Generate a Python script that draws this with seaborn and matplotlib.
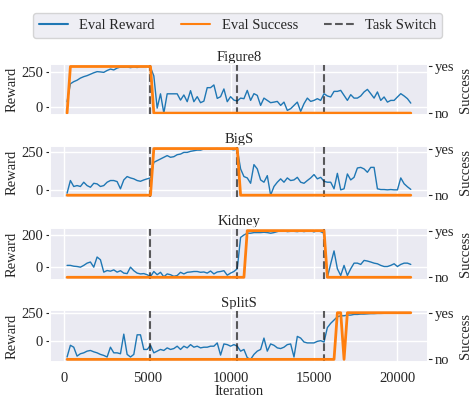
# Eval reward / success per task, with task switches (4 stacked panels)

import matplotlib
matplotlib.use("Agg")
import matplotlib.pyplot as plt
from matplotlib.lines import Line2D
import numpy as np
import pandas as pd
import seaborn as sns


TASKS = ["Figure8", "BigS", "Kidney", "SplitS"]
ITERATIONS = np.arange(200, 20801, 200)
TASK_SWITCHES = [5200, 10400, 15600]
REWARD_TICKS = {"Figure8": [0, 250], "BigS": [0, 250], "Kidney": [0, 200], "SplitS": [0, 250]}

# one row per task segment (26 evals each)
REWARD_FIGURE8 = [
    40, 165, 180, 190, 205, 215, 222, 232, 242, 250, 248, 245, 258, 268, 262, 275, 282, 281, 283, 278, 283, 279, 285, 284, 286, 280,
    220, -5, 95, -40, 95, 95, 95, 95, 51, 87, 40, 117, 40, 75, 33, 44, 138, 138, 157, 63, 75, 129, 40, 75, 51, 45,
    65, 61, 119, 49, 96, 84, 14, 65, 49, 33, 37, 42, 14, 37, -21, -9, 14, 37, -28, 26, 65, 42, 49, 61, 49, 96,
    80, 73, 112, 112, 119, 84, 49, 89, 65, 65, 80, 108, 126, 96, 65, 108, 49, 73, 37, 49, 49, 73, 96, 80, 61, 30,
]
REWARD_BIGS = [
    -22, 61, 22, 28, 22, 50, 28, 17, 43, 39, 22, 28, 50, 61, 61, 54, 7, 65, 87, 78, 72, 61, 56, 65, 72, 78,
    180, 191, 202, 213, 224, 213, 217, 230, 234, 245, 245, 252, 256, 260, 260, 267, 267, 265, 268, 270, 266, 268, 270, 265, 262, 268,
    137, 87, 78, 43, 165, 137, 65, 50, 93, -35, 22, 50, 72, 50, 78, 61, 65, 82, 50, 43, 61, 78, 100, 72, 82, 56,
    50, 50, 7, 108, 0, 7, 104, 65, 82, 143, 147, 137, 115, 147, 147, 7, 2, 2, 0, 2, 0, 0, 78, 40, 20, 3,
]
REWARD_KIDNEY = [
    13, 13, 8, 6, 2, 13, 27, 34, 2, 65, 48, -29, -19, -23, -15, -29, -20, -35, -38, 2, -20, -35, -40, -38, -45, -57,
    -25, -45, -30, -58, -40, -45, -55, -50, -30, -40, -30, -28, -25, -25, -30, -28, -35, -22, -40, -28, -25, -20, -48, -35, -25, -8,
    187, 202, 213, 213, 217, 217, 217, 219, 217, 213, 217, 223, 229, 229, 223, 225, 225, 223, 227, 223, 227, 229, 221, 229, 223, 213,
    -61, 23, 103, -8, -50, 13, -50, -8, 27, 27, 19, 44, 40, 34, 27, 23, 13, 6, 6, 13, 23, 6, 19, 27, 27, 19,
]
REWARD_SPLITS = [
    -145, -41, -58, -137, -116, -108, -93, -87, -99, -108, -122, -131, -145, -58, -108, -108, -116, 58, -122, -145, -122, 52, 52, -78, -78, -41,
    -108, -93, -78, -87, -64, -78, -70, -49, -78, -49, -64, -35, -58, -49, -64, -58, -58, -49, -49, -20, -128, -29, -35, -49, -35, -49,
    -93, -78, -151, -166, -122, -93, -78, 23, -93, -29, -41, -64, -70, -58, -35, -29, -145, 38, 23, -12, -20, -20, -20, -6, 0, -12,
    116, 154, 183, 212, 221, 221, 227, 227, 233, 233, 236, 236, 238, 240, 240, 242, 242, 243, 244, 245, 244, 246, 247, 246, 248, 248,
]

SUCCESS_FIGURE8 = [
    0, 1, 1, 1, 1, 1, 1, 1, 1, 1, 1, 1, 1, 1, 1, 1, 1, 1, 1, 1, 1, 1, 1, 1, 1, 1,
    0, 0, 0, 0, 0, 0, 0, 0, 0, 0, 0, 0, 0, 0, 0, 0, 0, 0, 0, 0, 0, 0, 0, 0, 0, 0,
    0, 0, 0, 0, 0, 0, 0, 0, 0, 0, 0, 0, 0, 0, 0, 0, 0, 0, 0, 0, 0, 0, 0, 0, 0, 0,
    0, 0, 0, 0, 0, 0, 0, 0, 0, 0, 0, 0, 0, 0, 0, 0, 0, 0, 0, 0, 0, 0, 0, 0, 0, 0,
]
SUCCESS_BIGS = [
    0, 0, 0, 0, 0, 0, 0, 0, 0, 0, 0, 0, 0, 0, 0, 0, 0, 0, 0, 0, 0, 0, 0, 0, 0, 0,
    1, 1, 1, 1, 1, 1, 1, 1, 1, 1, 1, 1, 1, 1, 1, 1, 1, 1, 1, 1, 1, 1, 1, 1, 1, 1,
    0, 0, 0, 0, 0, 0, 0, 0, 0, 0, 0, 0, 0, 0, 0, 0, 0, 0, 0, 0, 0, 0, 0, 0, 0, 0,
    0, 0, 0, 0, 0, 0, 0, 0, 0, 0, 0, 0, 0, 0, 0, 0, 0, 0, 0, 0, 0, 0, 0, 0, 0, 0,
]
SUCCESS_KIDNEY = [
    0, 0, 0, 0, 0, 0, 0, 0, 0, 0, 0, 0, 0, 0, 0, 0, 0, 0, 0, 0, 0, 0, 0, 0, 0, 0,
    0, 0, 0, 0, 0, 0, 0, 0, 0, 0, 0, 0, 0, 0, 0, 0, 0, 0, 0, 0, 0, 0, 0, 0, 0, 0,
    0, 0, 1, 1, 1, 1, 1, 1, 1, 1, 1, 1, 1, 1, 1, 1, 1, 1, 1, 1, 1, 1, 1, 1, 1, 1,
    0, 0, 0, 0, 0, 0, 0, 0, 0, 0, 0, 0, 0, 0, 0, 0, 0, 0, 0, 0, 0, 0, 0, 0, 0, 0,
]
SUCCESS_SPLITS = [
    0, 0, 0, 0, 0, 0, 0, 0, 0, 0, 0, 0, 0, 0, 0, 0, 0, 0, 0, 0, 0, 0, 0, 0, 0, 0,
    0, 0, 0, 0, 0, 0, 0, 0, 0, 0, 0, 0, 0, 0, 0, 0, 0, 0, 0, 0, 0, 0, 0, 0, 0, 0,
    0, 0, 0, 0, 0, 0, 0, 0, 0, 0, 0, 0, 0, 0, 0, 0, 0, 0, 0, 0, 0, 0, 0, 0, 0, 0,
    0, 0, 0, 1, 1, 0, 1, 1, 1, 1, 1, 1, 1, 1, 1, 1, 1, 1, 1, 1, 1, 1, 1, 1, 1, 1,
]

REWARDS = {"Figure8": REWARD_FIGURE8, "BigS": REWARD_BIGS, "Kidney": REWARD_KIDNEY, "SplitS": REWARD_SPLITS}
SUCCESSES = {"Figure8": SUCCESS_FIGURE8, "BigS": SUCCESS_BIGS, "Kidney": SUCCESS_KIDNEY, "SplitS": SUCCESS_SPLITS}

BLUE = "#1f77b4"
ORANGE = "#ff7f0e"
FS = 10.5


def setup_plot_style() -> None:
    sns.set_theme(
        style="darkgrid",
        rc={
            "font.size": FS,
            "axes.titlesize": FS,
            "axes.labelsize": FS,
            "xtick.labelsize": FS,
            "ytick.labelsize": FS,
            "legend.fontsize": FS,
            "xtick.major.pad": 1.5,
            "ytick.major.pad": 2,
            "axes.titlepad": 2.5,
            "axes.labelpad": 2,
        },
    )
    plt.rcParams["font.family"] = ["Liberation Serif", "DejaVu Serif"]


if __name__ == "__main__":
    setup_plot_style()

    frames = []
    for task in TASKS:
        frames.append(pd.DataFrame({
            "task": task,
            "iteration": ITERATIONS,
            "reward": REWARDS[task],
            "success": SUCCESSES[task],
        }))
    df = pd.concat(frames, ignore_index=True)

    fig, axes = plt.subplots(4, 1, figsize=(4.75, 4.01), dpi=100, sharex=True)
    fig.subplots_adjust(left=0.105, right=0.901, top=0.840, bottom=0.098, hspace=0.6)

    for ax, task in zip(axes, TASKS):
        sub = df[df["task"] == task]
        sns.lineplot(data=sub, x="iteration", y="reward", color=BLUE, linewidth=1.0, ax=ax)
        for xs in TASK_SWITCHES:
            ax.axvline(xs, color="k", alpha=0.7, linestyle="--", linewidth=1.5)
        ax.set_yticks(REWARD_TICKS[task])
        ax.set_ylabel("Reward")
        ax.set_xlabel("")
        ax.set_title(task)
        ax.tick_params(axis="y", left=True, length=3, width=0.8, color=".15", pad=2)

        ax2 = ax.twinx()
        sns.lineplot(data=sub, x="iteration", y="success", color=ORANGE, linewidth=2.0, ax=ax2)
        ax2.grid(False)
        ax2.set_yticks([0, 1])
        ax2.set_yticklabels(["no", "yes"])
        ax2.set_ylabel("Success", labelpad=3)
        ax2.tick_params(axis="y", right=True, length=3, width=0.8, color=".15", pad=2)

    axes[-1].set_xticks([0, 5000, 10000, 15000, 20000])
    axes[-1].set_xlabel("Iteration", labelpad=0)

    handles = [
        Line2D([], [], color=BLUE, linewidth=1.5, label="Eval Reward"),
        Line2D([], [], color=ORANGE, linewidth=1.5, label="Eval Success"),
        Line2D([], [], color="k", alpha=0.7, linestyle="--", linewidth=1.5, label="Task Switch"),
    ]
    fig.legend(
        handles=handles,
        loc="upper center",
        bbox_to_anchor=(0.5, 0.985),
        ncol=3,
        columnspacing=1.8,
        frameon=True,
        facecolor="#EAEAF2",
        edgecolor="0.8",
    )

    fig.savefig("out.png", dpi=100)
    plt.close(fig)
